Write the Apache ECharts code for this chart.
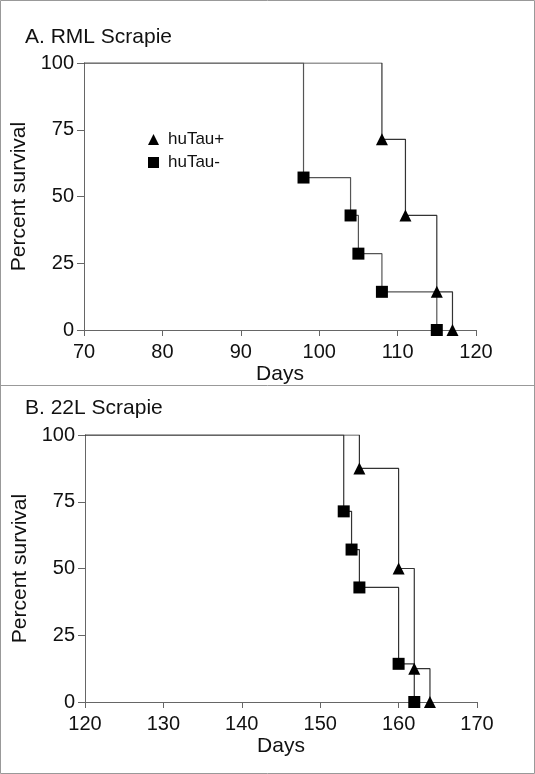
<!DOCTYPE html>
<html>
<head>
<meta charset="utf-8">
<script src="https://cdn.jsdelivr.net/npm/echarts@6/dist/echarts.min.js"></script>
<style>html,body{margin:0;padding:0;background:#fff}#c{width:535px;height:774px}</style>
</head>
<body>
<div id="c"></div>
<script>
// Panel A: RML Scrapie
var rmlPlusDays = [108, 111, 115, 117];
var rmlPlusSurv = [71.4, 42.9, 14.3, 0];
var rmlMinusDays = [98, 104, 105, 108, 115];
var rmlMinusSurv = [57.1, 42.9, 28.6, 14.3, 0];
// Panel B: 22L Scrapie
var l22PlusDays = [155, 160, 162, 164];
var l22PlusSurv = [87.5, 50, 12.5, 0];
var l22MinusDays = [153, 154, 155, 160, 162];
var l22MinusSurv = [71.4, 57.1, 42.9, 14.3, 0];

var yTicks = [0, 25, 50, 75, 100];
var xRangeA = [70, 120];
var xRangeB = [120, 170];

function pts(days, surv) { return days.map(function (d, i) { return [d, surv[i]]; }); }
function stepLine(start, days, surv) { return [[start, 100]].concat(pts(days, surv)); }

var FONT = 'Liberation Sans, Arial, sans-serif';
var axisColor = '#666';

function xAxis(idx, range) {
  return {
    type: 'value', gridIndex: idx, min: range[0], max: range[1], interval: 10,
    name: 'Days', nameLocation: 'middle', nameGap: 34,
    nameTextStyle: { fontSize: 21, color: '#111', fontFamily: FONT },
    axisLine: { lineStyle: { color: axisColor, width: 1 } },
    axisTick: { length: 6, lineStyle: { color: axisColor } },
    axisLabel: { fontSize: 20, color: '#111', margin: 12, fontFamily: FONT },
    splitLine: { show: false }
  };
}
function yAxis(idx) {
  return {
    type: 'value', gridIndex: idx, min: yTicks[0], max: yTicks[yTicks.length - 1], interval: 25,
    name: 'Percent survival', nameLocation: 'middle', nameGap: 21, nameRotate: 90,
    nameTextStyle: { fontSize: 21, color: '#111', fontFamily: FONT },
    axisLine: { show: true, lineStyle: { color: axisColor, width: 1 } },
    axisTick: { show: true, length: 7, lineStyle: { color: axisColor } },
    axisLabel: { fontSize: 20, color: '#111', margin: 10, fontFamily: FONT },
    splitLine: { show: false }
  };
}
function line(name, idx, data, color) {
  return { name: name + ' line', type: 'line', xAxisIndex: idx, yAxisIndex: idx, step: 'end',
    data: data, showSymbol: false, symbol: 'none', lineStyle: { color: color, width: 1.2 }, z: 2, silent: true };
}
function marks(name, idx, data, symbol, size) {
  return { name: name, type: 'scatter', xAxisIndex: idx, yAxisIndex: idx, data: data,
    symbol: symbol, symbolSize: size, itemStyle: { color: '#000', opacity: 1 }, z: 3 };
}

var chart = echarts.init(document.getElementById('c'));
chart.setOption({
  animation: false,
  backgroundColor: '#fff',
  grid: [
    { left: 84, top: 63, width: 392, height: 267 },
    { left: 85, top: 435, width: 392, height: 267 }
  ],
  xAxis: [xAxis(0, xRangeA), xAxis(1, xRangeB)],
  yAxis: [yAxis(0), yAxis(1)],
  legend: {
    data: [{ name: 'huTau+', icon: 'triangle' }, { name: 'huTau-', icon: 'rect' }],
    orient: 'vertical', left: 143, top: 126, itemWidth: 11, itemHeight: 11, itemGap: 6,
    textStyle: { fontSize: 17, color: '#111', fontFamily: FONT, padding: [0, 0, 0, 4] }
  },
  graphic: [
    { type: 'rect', shape: { x: 0.5, y: 0.5, width: 534, height: 773 }, style: { fill: 'none', stroke: '#999', lineWidth: 1 }, silent: true },
    { type: 'line', shape: { x1: 0, y1: 385.5, x2: 535, y2: 385.5 }, style: { stroke: '#999', lineWidth: 1 }, silent: true },
    { type: 'text', left: 25, top: 27, style: { text: 'A. RML Scrapie', fontSize: 21, fill: '#111', fontFamily: FONT } },
    { type: 'text', left: 25, top: 398, style: { text: 'B. 22L Scrapie', fontSize: 21, fill: '#111', fontFamily: FONT } }
  ],
  series: [
    line('huTau+', 0, stepLine(xRangeA[0], rmlPlusDays, rmlPlusSurv), '#333'),
    line('huTau-', 0, stepLine(xRangeA[0], rmlMinusDays, rmlMinusSurv), '#555'),
    marks('huTau+', 0, pts(rmlPlusDays, rmlPlusSurv), 'triangle', 12),
    marks('huTau-', 0, pts(rmlMinusDays, rmlMinusSurv), 'rect', 12),
    line('huTau+', 1, stepLine(xRangeB[0], l22PlusDays, l22PlusSurv), '#333'),
    line('huTau-', 1, stepLine(xRangeB[0], l22MinusDays, l22MinusSurv), '#333'),
    marks('huTau+', 1, pts(l22PlusDays, l22PlusSurv), 'triangle', 12),
    marks('huTau-', 1, pts(l22MinusDays, l22MinusSurv), 'rect', 12)
  ]
});
</script>
</body>
</html>
